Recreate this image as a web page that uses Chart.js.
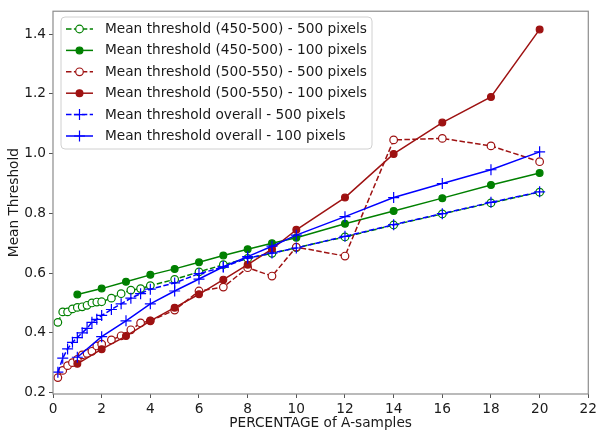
<!DOCTYPE html>
<html>
<head>
<meta charset="utf-8">
<script src="https://cdn.jsdelivr.net/npm/chart.js@4.4.0/dist/chart.umd.min.js"></script>
<style>
  html, body { margin: 0; padding: 0; background: #fff; }
  #wrap { width: 600px; height: 432px; }
</style>
</head>
<body>
<div id="wrap"><canvas id="c" width="600" height="432"></canvas></div>
<script>
// ---- data ----
const xFine = [0.2,0.4,0.6,0.8,1.0,1.2,1.4,1.6,1.8,2.0,2.4,2.8,3.2,3.6,4.0,5,6,7,8,9,10,12,14,16,18,20];
const xCoarse = [1,2,3,4,5,6,7,8,9,10,12,14,16,18,20];

const green500 = [0.435,0.470,0.470,0.480,0.485,0.487,0.492,0.500,0.503,0.504,0.516,0.531,0.543,0.548,0.558,0.579,0.604,0.628,0.649,0.666,0.685,0.721,0.761,0.798,0.835,0.871];
const green100 = [0.528,0.548,0.571,0.594,0.614,0.636,0.659,0.680,0.700,0.718,0.765,0.808,0.851,0.895,0.935];
const red500   = [0.250,0.274,0.290,0.300,0.311,0.326,0.331,0.338,0.356,0.362,0.376,0.390,0.410,0.433,0.440,0.476,0.540,0.553,0.618,0.590,0.687,0.657,1.046,1.051,1.026,0.973];
const red100   = [0.296,0.345,0.389,0.440,0.484,0.529,0.578,0.628,0.680,0.745,0.853,0.999,1.104,1.190,1.416];
const blue500  = [0.268,0.315,0.346,0.368,0.384,0.400,0.415,0.435,0.445,0.458,0.478,0.497,0.516,0.531,0.546,0.567,0.598,0.620,0.650,0.667,0.684,0.723,0.762,0.799,0.837,0.872];
const blue100  = [0.318,0.387,0.440,0.497,0.540,0.580,0.621,0.655,0.690,0.727,0.789,0.853,0.900,0.946,1.006];

const seriesLabels = [
  'Mean threshold (450-500) - 500 pixels',
  'Mean threshold (450-500) - 100 pixels',
  'Mean threshold (500-550) - 500 pixels',
  'Mean threshold (500-550) - 100 pixels',
  'Mean threshold overall - 500 pixels',
  'Mean threshold overall - 100 pixels'
];
const xTicks = [0,2,4,6,8,10,12,14,16,18,20,22];
const yTicks = [0.2,0.4,0.6,0.8,1.0,1.2,1.4];
const xTitle = 'PERCENTAGE of A-samples';
const yTitle = 'Mean Threshold';

// ---- styles ----
const GREEN = '#008000', RED = '#9e1212', BLUE = '#0000ff';
const DASH = [5.5, 2.4];
const FONT = 'DejaVu Sans';

function pts(xs, ys) { return xs.map((x, i) => ({ x: x, y: ys[i] })); }

const styles = [
  { color: GREEN, dash: DASH, marker: 'circle', fill: '#ffffff', r: 3.8 },
  { color: GREEN, dash: [],   marker: 'circle', fill: GREEN,     r: 3.4 },
  { color: RED,   dash: DASH, marker: 'circle', fill: '#ffffff', r: 3.8 },
  { color: RED,   dash: [],   marker: 'circle', fill: RED,       r: 3.4 },
  { color: BLUE,  dash: DASH, marker: 'cross',  fill: BLUE,      r: 5.5 },
  { color: BLUE,  dash: [],   marker: 'cross',  fill: BLUE,      r: 5.5 }
];
const dataSets = [pts(xFine, green500), pts(xCoarse, green100), pts(xFine, red500),
                  pts(xCoarse, red100), pts(xFine, blue500), pts(xCoarse, blue100)];

const datasets = dataSets.map((d, i) => ({
  label: seriesLabels[i],
  data: d,
  borderColor: styles[i].color,
  backgroundColor: styles[i].fill,
  borderWidth: 1.5,
  borderDash: styles[i].dash,
  pointStyle: styles[i].marker,
  pointRadius: styles[i].r,
  pointBorderColor: styles[i].color,
  pointBackgroundColor: styles[i].fill,
  pointBorderWidth: 1.2,
  pointHoverRadius: styles[i].r,
  showLine: true,
  fill: false,
  tension: 0,
  order: 6 - i
}));

const framePlugin = {
  id: 'frame',
  afterDatasetsDraw(chart) {
    const a = chart.chartArea, ctx = chart.ctx;
    ctx.save();
    ctx.strokeStyle = '#8c8c8c';
    ctx.lineWidth = 1.2;
    ctx.strokeRect(a.left, a.top, a.right - a.left, a.bottom - a.top);
    ctx.restore();
  }
};

const legendPlugin = {
  id: 'boxLegend',
  afterDraw(chart) {
    const ctx = chart.ctx;
    const bx = 61, by = 17, bw = 311, bh = 132, rad = 4;
    ctx.save();
    ctx.beginPath();
    ctx.moveTo(bx + rad, by);
    ctx.arcTo(bx + bw, by, bx + bw, by + bh, rad);
    ctx.arcTo(bx + bw, by + bh, bx, by + bh, rad);
    ctx.arcTo(bx, by + bh, bx, by, rad);
    ctx.arcTo(bx, by, bx + bw, by, rad);
    ctx.closePath();
    ctx.fillStyle = 'rgba(255,255,255,0.85)';
    ctx.fill();
    ctx.strokeStyle = '#d0d0d0';
    ctx.lineWidth = 1;
    ctx.stroke();
    ctx.font = '13.7px "' + FONT + '"';
    ctx.textBaseline = 'middle';
    ctx.textAlign = 'left';
    for (let i = 0; i < seriesLabels.length; i++) {
      const s = styles[i];
      const y = by + 12 + i * 21.4;
      ctx.beginPath();
      ctx.setLineDash(s.dash);
      ctx.strokeStyle = s.color;
      ctx.lineWidth = 1.5;
      ctx.moveTo(66, y); ctx.lineTo(93, y);
      ctx.stroke();
      ctx.setLineDash([]);
      const mx = 79.5;
      if (s.marker === 'circle') {
        ctx.beginPath();
        ctx.arc(mx, y, s.r, 0, Math.PI * 2);
        ctx.fillStyle = s.fill;
        ctx.fill();
        ctx.lineWidth = 1.2;
        ctx.strokeStyle = s.color;
        ctx.stroke();
      } else {
        ctx.beginPath();
        ctx.lineWidth = 1.2;
        ctx.strokeStyle = s.color;
        ctx.moveTo(mx - s.r, y); ctx.lineTo(mx + s.r, y);
        ctx.moveTo(mx, y - s.r); ctx.lineTo(mx, y + s.r);
        ctx.stroke();
      }
      ctx.fillStyle = '#1a1a1a';
      ctx.fillText(seriesLabels[i], 105, y + 0.5);
    }
    ctx.restore();
  }
};

new Chart(document.getElementById('c'), {
  type: 'scatter',
  data: { datasets: datasets },
  options: {
    responsive: false,
    animation: false,
    devicePixelRatio: 1,
    layout: { padding: { top: 10, right: 10, left: 0, bottom: 0 } },
    plugins: { legend: { display: false }, tooltip: { enabled: false } },
    elements: { line: { borderCapStyle: 'butt' } },
    scales: {
      x: {
        type: 'linear',
        min: 0, max: 22,
        afterBuildTicks(scale) { scale.ticks = xTicks.map(v => ({ value: v })); },
        afterFit(scale) { scale.height = 38; },
        border: { display: false },
        grid: { display: true, drawOnChartArea: false, drawTicks: true, tickLength: 4, tickColor: '#555', lineWidth: 1 },
        ticks: { color: '#1a1a1a', font: { family: FONT, size: 13.7 }, padding: 3, maxRotation: 0, autoSkip: false },
        title: { display: true, text: xTitle, color: '#1a1a1a', font: { family: FONT, size: 13.7 }, padding: { top: 0, bottom: 0 } }
      },
      y: {
        type: 'linear',
        min: 0.195, max: 1.477,
        afterBuildTicks(scale) { scale.ticks = yTicks.map(v => ({ value: v })); },
        afterFit(scale) { scale.width = 53; },
        border: { display: false },
        grid: { display: true, drawOnChartArea: false, drawTicks: true, tickLength: 4, tickColor: '#555', lineWidth: 1 },
        ticks: { color: '#1a1a1a', font: { family: FONT, size: 13.7 }, padding: 3, autoSkip: false,
                 callback: v => v.toFixed(1) },
        title: { display: true, text: yTitle, color: '#1a1a1a', font: { family: FONT, size: 13.7 }, padding: { top: 6, bottom: 0 } }
      }
    }
  },
  plugins: [framePlugin, legendPlugin]
});
</script>
</body>
</html>
